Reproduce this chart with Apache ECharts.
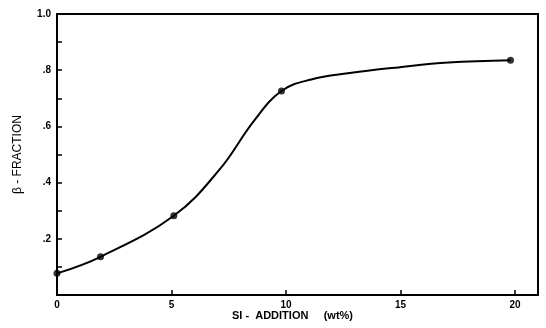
<!DOCTYPE html>
<html><head><meta charset="utf-8">
<script src="https://cdn.jsdelivr.net/npm/echarts@6/dist/echarts.min.js"></script>
<style>html,body{margin:0;padding:0;background:#fff}#c{width:546px;height:328px}</style>
</head><body><div id="c"></div>
<script>
// measured points (Si addition wt%, beta fraction)
const pointX = [0, 1.9, 5.1, 9.8, 19.8];
const pointY = [0.077, 0.136, 0.282, 0.726, 0.835];
// hand-drawn curve
const curveX = [0, 1.9, 5.1, 7.1, 8.6, 9.8, 11.1, 12.7, 14.9, 17.1, 19.8];
const curveY = [0.077, 0.136, 0.282, 0.447, 0.620, 0.726, 0.767, 0.789, 0.810, 0.827, 0.835];
const xTicks = [0, 5, 10, 15, 20];
const yTickLabels = {0.2: '.2', 0.4: '.4', 0.6: '.6', 0.8: '.8', 1: '1.0'};

const chart = echarts.init(document.getElementById('c'), null, {renderer: 'canvas'});
const font = 'Liberation Sans, Arial, sans-serif';
chart.setOption({
  animation: false,
  backgroundColor: '#fff',
  grid: {left: 57, top: 14, right: 8, bottom: 33, show: true, borderColor: '#000', borderWidth: 2, backgroundColor: 'transparent'},
  xAxis: {
    type: 'value', min: 0, max: 21, interval: 5,
    axisLine: {show: true, lineStyle: {color: '#000', width: 2}},
    axisTick: {show: true, inside: true, length: 5, lineStyle: {color: '#000', width: 1.5},
      customValues: xTicks},
    axisLabel: {color: '#000', fontSize: 10, fontWeight: 'bold', fontFamily: font, margin: 5,
      customValues: xTicks, formatter: v => String(v)},
    splitLine: {show: false}
  },
  yAxis: {
    type: 'value', min: 0, max: 1, interval: 0.2,
    name: 'β - FRACTION', nameLocation: 'middle', nameGap: 33,
    nameTextStyle: {color: '#000', fontSize: 12, fontFamily: font},
    axisLine: {show: true, lineStyle: {color: '#000', width: 2}},
    axisTick: {show: true, inside: true, length: 5, lineStyle: {color: '#000', width: 1.5}},
    minorTick: {show: true, splitNumber: 2, length: 5, lineStyle: {color: '#000', width: 1.5}},
    axisLabel: {color: '#000', fontSize: 10, fontWeight: 'bold', fontFamily: font, margin: 6,
      formatter: v => yTickLabels[Math.round(v * 10) / 10] || ''},
    splitLine: {show: false}
  },
  graphic: [{
    type: 'text', left: 232, top: 310,
    style: {text: 'SI -  ADDITION     (wt%)', fill: '#000', font: 'bold 11px ' + font}
  }],
  series: [
    {type: 'line', smooth: 0.4, showSymbol: false, data: curveX.map((x, i) => [x, curveY[i]]),
     lineStyle: {color: '#000', width: 2}, z: 2},
    {type: 'scatter', symbol: 'circle', symbolSize: 7, data: pointX.map((x, i) => [x, pointY[i]]),
     itemStyle: {color: '#000'}, z: 3}
  ]
});
</script></body></html>
